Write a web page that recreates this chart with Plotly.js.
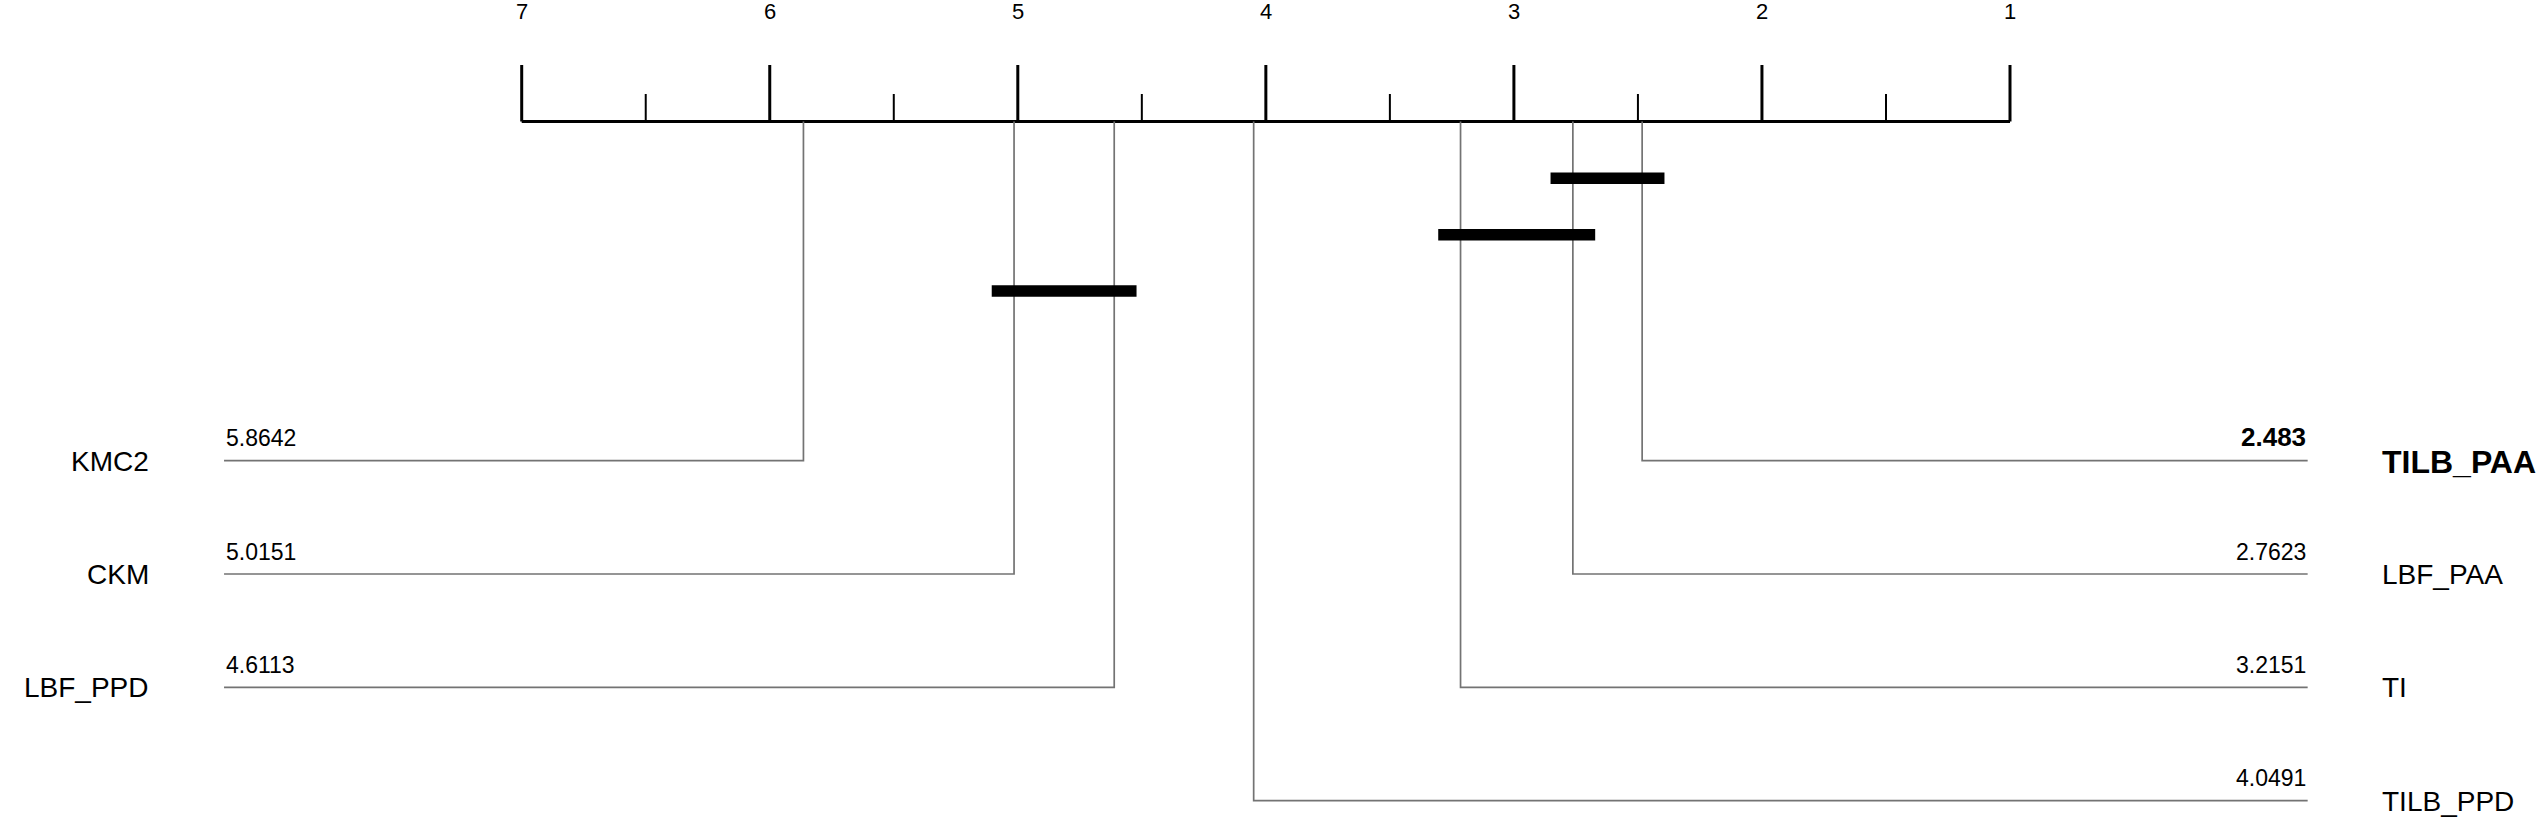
<!DOCTYPE html>
<html>
<head>
<meta charset="utf-8">
<script src="https://cdn.plot.ly/plotly-3.0.1.min.js"></script>
<style>
html,body{margin:0;padding:0;background:#fff;}
#chart{width:2545px;height:830px;}
</style>
</head>
<body>
<div id="chart"></div>
<script>
// ---- data ----
const methods = ['TILB_PAA', 'LBF_PAA', 'TI', 'TILB_PPD', 'LBF_PPD', 'CKM', 'KMC2'];
const avgRanks = [2.483, 2.7623, 3.2151, 4.0491, 4.6113, 5.0151, 5.8642];
const rankLabels = ['2.483', '2.7623', '3.2151', '4.0491', '4.6113', '5.0151', '5.8642'];
const cliqueStart = ['TILB_PAA', 'LBF_PAA', 'LBF_PPD'];
const cliqueEnd = ['LBF_PAA', 'TI', 'CKM'];
const tickValues = [1, 2, 3, 4, 5, 6, 7];
const tickLabels = ['1', '2', '3', '4', '5', '6', '7'];
const minorTicks = [1.5, 2.5, 3.5, 4.5, 5.5, 6.5];
const bestMethod = 'TILB_PAA';

// ---- layout constants ----
const W = 2545, H = 830;
const pxPerRank = 248.05;
const rank7px = 521.7;
const xLeft = 7 + rank7px / pxPerRank;
const xRight = 1 - (W - (rank7px + 6 * pxPerRank)) / pxPerRank;
const axisY = 121.5;
const majorTop = 65;
const minorTop = 94;
const rowY0 = 460.7, rowStep = 113.3;
const barY0 = 178.3, barStep = 56.4;
const lineExt = 1.2;   // horizontal line extension beyond rank range
const nameExtL = 1.493;
const nameExtR = 1.49;
const barExt = 0.09;
const FONT = 'Liberation Sans, Arial, Helvetica, sans-serif';
const connColor = '#737373';

const maxRank = tickValues[tickValues.length - 1];
const minRank = tickValues[0];

const traces = [];
const annotations = [];

function seg(x, y, width, color) {
  traces.push({type: 'scatter', mode: 'lines', x: x, y: y, hoverinfo: 'skip',
    line: {color: color, width: width}, showlegend: false});
}

// axis
seg([maxRank, minRank], [axisY, axisY], 3, '#000');
tickValues.forEach((t, i) => {
  seg([t, t], [axisY, majorTop], 3, '#000');
  annotations.push({x: t, y: 11, xref: 'x', yref: 'y', text: tickLabels[i], showarrow: false,
    xanchor: 'center', yanchor: 'middle', font: {family: FONT, size: 22, color: '#000'}});
});
minorTicks.forEach(t => seg([t, t], [axisY, minorTop], 2, '#000'));

// split methods into right (best) and left (worst) sides
const order = methods.map((m, i) => i).sort((a, b) => avgRanks[a] - avgRanks[b]);
const nRight = Math.ceil(order.length / 2);
const rightIdx = order.slice(0, nRight);
const leftIdx = order.slice(nRight).reverse();

rightIdx.forEach((idx, row) => {
  const r = avgRanks[idx];
  const y = rowY0 + row * rowStep;
  const bold = methods[idx] === bestMethod;
  seg([r, r, minRank - lineExt], [axisY, y, y], 1.7, connColor);
  annotations.push({x: minRank - lineExt, y: y - (bold ? 23.5 : 22.5), xref: 'x', yref: 'y',
    text: bold ? '<b>' + rankLabels[idx] + '</b>' : rankLabels[idx], showarrow: false,
    xanchor: 'right', yanchor: 'middle', font: {family: FONT, size: bold ? 26 : 23, color: '#000'}});
  annotations.push({x: minRank - nameExtR, y: y + (bold ? 1.5 : 0.5), xref: 'x', yref: 'y',
    text: bold ? '<b>' + methods[idx] + '</b>' : methods[idx], showarrow: false,
    xanchor: 'left', yanchor: 'middle', font: {family: FONT, size: bold ? 32 : 28, color: '#000'}});
});

leftIdx.forEach((idx, row) => {
  const r = avgRanks[idx];
  const y = rowY0 + row * rowStep;
  seg([r, r, maxRank + lineExt], [axisY, y, y], 1.7, connColor);
  annotations.push({x: maxRank + lineExt, y: y - 22.5, xref: 'x', yref: 'y',
    text: rankLabels[idx], showarrow: false,
    xanchor: 'left', yanchor: 'middle', font: {family: FONT, size: 23, color: '#000'}});
  annotations.push({x: maxRank + nameExtL, y: y + 0.5, xref: 'x', yref: 'y',
    text: methods[idx], showarrow: false,
    xanchor: 'right', yanchor: 'middle', font: {family: FONT, size: 28, color: '#000'}});
});

// clique bars
cliqueStart.forEach((a, k) => {
  const ra = avgRanks[methods.indexOf(a)];
  const rb = avgRanks[methods.indexOf(cliqueEnd[k])];
  const lo = Math.min(ra, rb) - barExt, hi = Math.max(ra, rb) + barExt;
  const y = barY0 + k * barStep;
  seg([lo, hi], [y, y], 11.5, '#000');
});

const layout = {
  width: W, height: H,
  margin: {l: 0, r: 0, t: 0, b: 0, pad: 0},
  paper_bgcolor: '#fff', plot_bgcolor: '#fff',
  showlegend: false,
  xaxis: {range: [xLeft, xRight], visible: false, fixedrange: true},
  yaxis: {range: [H, 0], visible: false, fixedrange: true},
  annotations: annotations
};

Plotly.newPlot('chart', traces, layout, {displayModeBar: false, staticPlot: true});
</script>
</body>
</html>
